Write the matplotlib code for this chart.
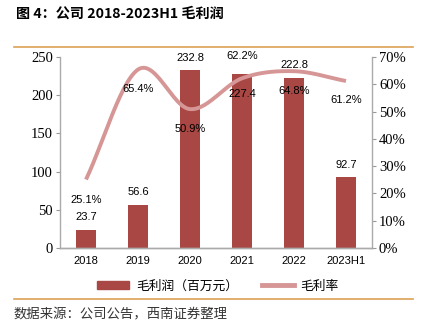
import numpy as np
import matplotlib
matplotlib.use("Agg")
import matplotlib.pyplot as plt
from matplotlib.lines import Line2D
from matplotlib.patches import Patch

categories = ["2018", "2019", "2020", "2021", "2022", "2023H1"]
gross_profit = [23.7, 56.6, 232.8, 227.4, 222.8, 92.7]
gross_margin = [25.1, 65.4, 50.9, 62.2, 64.8, 61.2]
left_ticks = [0, 50, 100, 150, 200, 250]
right_ticks = [0, 10, 20, 30, 40, 50, 60, 70]

BAR = "#A84743"
LINE = "#D69696"
GOLD = "#DDA255"
CJK = ["Noto Sans CJK SC", "DejaVu Sans"]

fig = plt.figure(figsize=(4.22, 3.34), dpi=100)
ax = fig.add_axes([60/422, 1-248/334, 312/422, 191/334])
ax2 = ax.twinx()

x = np.arange(len(categories))
ax.bar(x, gross_profit, width=0.39, color=BAR, zorder=2)
ax.set_xlim(-0.5, len(categories)-0.5)
ax.set_ylim(0, 250)
ax.set_yticks(left_ticks)
ax.set_yticklabels([str(v) for v in left_ticks], family="Liberation Serif", fontsize=10.5)
ax.set_xticks(x)
ax.set_xticklabels(categories, family="Liberation Sans", fontsize=8)
ax.tick_params(axis="x", length=0, pad=6)
ax.tick_params(axis="y", length=3, color="#999999", pad=2)

# smooth line (Catmull-Rom through data points)
xs, ys = [], []
p = np.array(gross_margin, dtype=float)
pe = np.concatenate([[2*p[0]-p[1]], p, [2*p[-1]-p[-2]]])
for i in range(len(p)-1):
    t = np.linspace(0, 1, 30)
    p0, p1, p2, p3 = pe[i], pe[i+1], pe[i+2], pe[i+3]
    yy = 0.5*((2*p1) + (-p0+p2)*t + (2*p0-5*p1+4*p2-p3)*t**2 + (-p0+3*p1-3*p2+p3)*t**3)
    xs.extend(i + t)
    ys.extend(yy)
ax2.plot(xs, ys, color=LINE, lw=2.8, solid_capstyle="butt", zorder=3)
ax2.set_ylim(0, 70)
ax2.set_yticks(right_ticks)
ax2.set_yticklabels([f"{v}%" for v in right_ticks], family="Liberation Serif", fontsize=10.5)
ax2.tick_params(axis="y", length=3, color="#999999", pad=2)

for a in (ax, ax2):
    a.spines["top"].set_visible(False)
    for s in ("left", "right", "bottom"):
        a.spines[s].set_color("#AAAAAA")
        a.spines[s].set_linewidth(1.0)
ax.spines["right"].set_visible(False)
ax2.spines["left"].set_visible(False)

# bar value labels (offsets in points)
bar_off = [9, 9, 9, -14, 9, 9]
for i, v in enumerate(gross_profit):
    ax2.annotate(f"{v}", xy=(i, v*70/250), xytext=(0, bar_off[i]), textcoords="offset points",
                 ha="center", va="center", fontsize=8, family="Liberation Sans", zorder=5)
pct_off = [-15, -14, -14, 16, -14, -14]
for i, v in enumerate(gross_margin):
    ax2.annotate(f"{v}%", xy=(i, v), xytext=(0, pct_off[i]), textcoords="offset points",
                 ha="center", va="center", fontsize=8, family="Liberation Sans", zorder=5)

# title and rules
fig.text(16/422, 1-14/334, "图 4：公司 2018-2023H1 毛利润", family=CJK, fontsize=10.2,
         fontweight="bold", ha="left", va="center")
fig.add_artist(Line2D([14/422, 413/422], [1-47/334, 1-47/334], color=GOLD, lw=1.2))
fig.add_artist(Line2D([14/422, 413/422], [1-299/334, 1-299/334], color=GOLD, lw=1.2))
fig.text(14/422, 1-314/334, "数据来源：公司公告，西南证券整理", family=CJK, fontsize=9.6,
         style="italic", ha="left", va="center", color="#333333")

handles = [Patch(color=BAR), Line2D([], [], color=LINE, lw=3.5)]
fig.legend(handles, ["毛利润（百万元）", "毛利率"], loc="center", bbox_to_anchor=(218/422, 1-286/334),
           ncol=2, frameon=False, prop={"family": CJK, "size": 9.2}, handlelength=2.5,
           handleheight=0.55, columnspacing=1.9, handletextpad=0.5)

fig.savefig("out.png", dpi=100)
